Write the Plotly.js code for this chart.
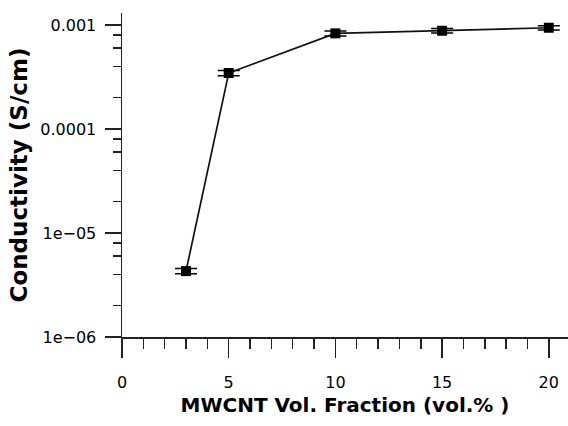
<!DOCTYPE html>
<html>
<head>
<meta charset="utf-8">
<script src="https://cdn.plot.ly/plotly-3.0.1.min.js"></script>
<style>html,body{margin:0;padding:0;background:#fff;}#chart{width:568px;height:426px;}</style>
</head>
<body>
<div id="chart"></div>
<script>
// Data
var volFraction = [3, 5, 10, 15, 20];
var conductivity = [4.3e-6, 3.45e-4, 8.3e-4, 8.8e-4, 9.4e-4];
var conductivityErr = [0.25e-6, 0.2e-4, 0.45e-4, 0.45e-4, 0.45e-4];

var xMajorTicks = [0, 5, 10, 15, 20];
var xMinorTicks = [1, 2, 3, 4, 6, 7, 8, 9, 11, 12, 13, 14, 16, 17, 18, 19];
var yMajorTicks = [1e-6, 1e-5, 1e-4, 1e-3];
var yMajorLabels = ['1e\u221206', '1e\u221205', '0.0001', '0.001'];
var yMinorTicks = [2e-6, 4e-6, 6e-6, 8e-6, 2e-5, 4e-5, 6e-5, 8e-5, 2e-4, 4e-4, 6e-4, 8e-4];

var trace = {
  x: volFraction,
  y: conductivity,
  type: 'scatter',
  mode: 'lines+markers',
  line: {color: '#111', width: 1.7},
  marker: {symbol: 'square', size: 10, color: '#000'},
  error_y: {type: 'data', array: conductivityErr, visible: true, color: '#000', thickness: 1.5, width: 11},
  showlegend: false
};

var axisFont = {family: 'DejaVu Sans, Verdana, sans-serif', size: 16, color: '#000'};

var layout = {
  width: 568,
  height: 426,
  margin: {l: 122, r: 0, t: 13, b: 89},
  paper_bgcolor: '#fff',
  plot_bgcolor: '#fff',
  showlegend: false,
  xaxis: {
    range: [0, 20.9],
    tickmode: 'array',
    tickvals: xMajorTicks,
    ticktext: xMajorTicks.map(String),
    ticks: 'outside',
    ticklen: 19,
    tickwidth: 1.5,
    tickcolor: '#222',
    minor: {tickmode: 'array', tickvals: xMinorTicks, ticks: 'outside', ticklen: 10, tickwidth: 1.5, tickcolor: '#222', showgrid: false},
    showline: true,
    linecolor: '#222',
    linewidth: 1.5,
    showgrid: false,
    zeroline: false,
    tickfont: axisFont,
    ticklabelstandoff: 11,
    title: {text: 'MWCNT Vol. Fraction (vol.% )', font: {family: 'DejaVu Sans, Verdana, sans-serif', size: 20, color: '#000', weight: 'bold'}, standoff: 7}
  },
  yaxis: {
    type: 'log',
    range: [-6, -2.885],
    tickmode: 'array',
    tickvals: yMajorTicks,
    ticktext: yMajorLabels,
    ticks: 'outside',
    ticklen: 16,
    tickwidth: 1.5,
    tickcolor: '#222',
    minor: {tickmode: 'array', tickvals: yMinorTicks, ticks: 'outside', ticklen: 8, tickwidth: 1.5, tickcolor: '#222', showgrid: false},
    showline: true,
    linecolor: '#222',
    linewidth: 1.5,
    showgrid: false,
    zeroline: false,
    tickfont: axisFont,
    ticklabelstandoff: 5,
    title: {text: 'Conductivity (S/cm)', font: {family: 'DejaVu Sans, Verdana, sans-serif', size: 23, color: '#000', weight: 'bold'}, standoff: 6}
  }
};

Plotly.newPlot('chart', [trace], layout, {displayModeBar: false, staticPlot: true});
</script>
</body>
</html>
